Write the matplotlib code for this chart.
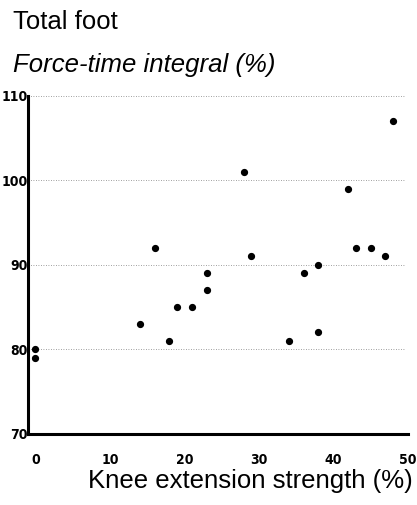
"""Total foot force-time integral vs knee extension strength"""

import matplotlib.pyplot as plt

# Data
knee_strength = [0, 0, 14, 16, 18, 19, 21, 23, 23, 28, 29, 34, 36, 38, 38,
                 42, 43, 45, 47, 48]
force_time = [80, 79, 83, 92, 81, 85, 85, 89, 87, 101, 91, 81, 89, 90, 82,
              99, 92, 92, 91, 107]
x_ticks = [0, 10, 20, 30, 40, 50]
y_ticks = [70, 80, 90, 100, 110]

tick_font = {"family": ["DejaVu Sans"], "stretch": "condensed",
             "weight": "bold", "size": 10}
label_font = ["Liberation Sans", "DejaVu Sans"]

fig = plt.figure(figsize=(4.17, 5.05), dpi=100)
ax = fig.add_axes([0.067, 0.141, 0.911, 0.669])

ax.plot(knee_strength, force_time, "o", color="black", markersize=4.2)

ax.set_xlim(-1, 50)
ax.set_ylim(70, 110)
ax.set_xticks(x_ticks)
ax.set_yticks(y_ticks)
ax.set_xticklabels([str(t) for t in x_ticks], fontdict=tick_font)
ax.set_yticklabels([str(t) for t in y_ticks], fontdict=tick_font)
ax.tick_params(axis="x", length=0, pad=14)
ax.tick_params(axis="y", length=0, pad=0)

# Dotted gridlines
for y in y_ticks[1:]:
    ax.axhline(y, xmax=0.99, color="gray", linestyle=(0, (1, 2)),
               linewidth=0.6, zorder=0)

for side in ["top", "right"]:
    ax.spines[side].set_visible(False)
for side in ["left", "bottom"]:
    ax.spines[side].set_linewidth(2.2)

fig.text(0.03, 0.956, "Total foot", fontsize=18.5, family=label_font,
         va="center")
fig.text(0.03, 0.871, "Force-time integral (%)", fontsize=18.5,
         family=label_font, style="italic", va="center")
fig.text(0.99, 0.048, "Knee extension strength (%)", fontsize=18.5,
         family=label_font, ha="right", va="center")

plt.savefig("out.png", dpi=100)
